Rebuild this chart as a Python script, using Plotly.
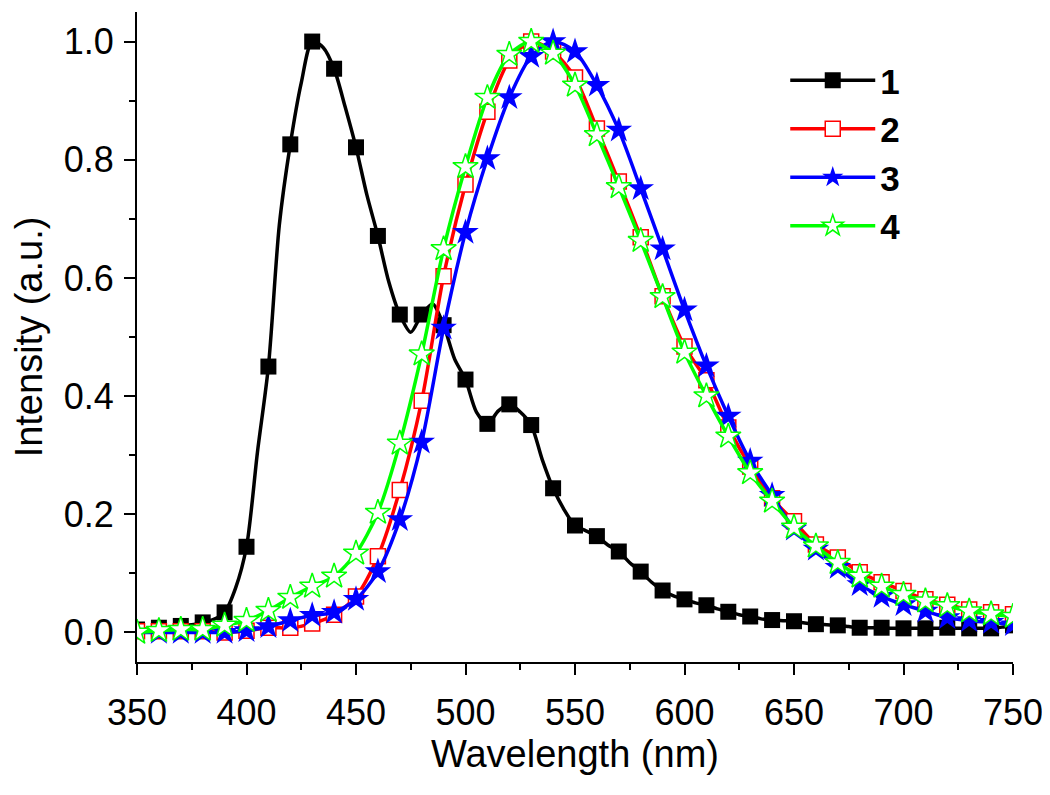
import plotly.graph_objects as go

# Series 1 (black), sampled every 5 nm (markers every 10 nm)
wl1 = list(range(350, 755, 5))
s1 = [0.005, 0.006, 0.008, 0.009, 0.011, 0.013, 0.017, 0.022, 0.034, 0.075,
      0.145, 0.305, 0.45, 0.69, 0.826, 0.93, 1.0, 0.99, 0.954, 0.89,
      0.821, 0.74, 0.671, 0.593, 0.538, 0.508, 0.538, 0.556, 0.52, 0.463,
      0.428, 0.373, 0.353, 0.375, 0.386, 0.373, 0.351, 0.293, 0.244, 0.208,
      0.181, 0.172, 0.163, 0.148, 0.137, 0.118, 0.103, 0.085, 0.071, 0.062,
      0.056, 0.05, 0.046, 0.04, 0.035, 0.03, 0.027, 0.023, 0.021, 0.02,
      0.019, 0.016, 0.014, 0.013, 0.012, 0.01, 0.008, 0.008, 0.008, 0.007,
      0.007, 0.007, 0.007, 0.007, 0.008, 0.007, 0.007, 0.007, 0.007, 0.009,
      0.012]

# Series 2-4, sampled every 10 nm
wl = list(range(350, 760, 10))
s2 = [0.002, 0.002, 0.002, 0.002, 0.0, 0.003, 0.008, 0.008, 0.015, 0.03,
      0.061, 0.129, 0.241, 0.392, 0.603, 0.758, 0.881, 0.968, 1.0, 0.983,
      0.939, 0.853, 0.763, 0.669, 0.569, 0.484, 0.427, 0.347, 0.281, 0.227,
      0.188, 0.149, 0.127, 0.102, 0.085, 0.07, 0.056, 0.047, 0.039, 0.034,
      0.031]
s3 = [0.0, 0.0, 0.0, 0.0, 0.0, 0.003, 0.01, 0.02, 0.029, 0.034,
      0.056, 0.103, 0.191, 0.322, 0.515, 0.677, 0.802, 0.905, 0.975, 1.0,
      0.983, 0.926, 0.85, 0.751, 0.649, 0.546, 0.451, 0.366, 0.29, 0.232,
      0.175, 0.141, 0.11, 0.081, 0.061, 0.047, 0.036, 0.025, 0.02, 0.017,
      0.013]
s4 = [0.0, 0.003, 0.005, 0.005, 0.012, 0.02, 0.037, 0.059, 0.078, 0.095,
      0.134, 0.203, 0.32, 0.471, 0.649, 0.788, 0.905, 0.978, 1.0, 0.98,
      0.926, 0.842, 0.754, 0.663, 0.568, 0.474, 0.40, 0.332, 0.27, 0.222,
      0.178, 0.146, 0.118, 0.095, 0.078, 0.064, 0.053, 0.045, 0.036, 0.031,
      0.027]

names = ["1", "2", "3", "4"]
xticks = [350, 400, 450, 500, 550, 600, 650, 700, 750]
xminor = [375, 425, 475, 525, 575, 625, 675, 725]
yticks = [0.0, 0.2, 0.4, 0.6, 0.8, 1.0]
yminor = [0.1, 0.3, 0.5, 0.7, 0.9]

FONT = "Liberation Sans, Arial, Helvetica, sans-serif"
LW = 3.5

fig = go.Figure()

# --- series 1: smooth line through 5 nm data, markers every 10 nm
fig.add_trace(go.Scatter(x=wl1, y=s1, mode="lines", showlegend=False,
                         line=dict(color="black", width=LW, shape="spline", smoothing=0.8)))
fig.add_trace(go.Scatter(x=wl1[::2], y=s1[::2], mode="markers", showlegend=False,
                         marker=dict(symbol="square", size=16, color="black")))

styles = [
    (s2, "#ff0000", dict(symbol="square", size=15, color="white",
                         line=dict(color="#ff0000", width=1.5))),
    (s3, "#0000ff", dict(symbol="star", size=20, color="#0000ff",
                         line=dict(color="#0000ff", width=0))),
    (s4, "#00ff00", dict(symbol="star", size=19, color="white",
                         line=dict(color="#00ff00", width=1.5))),
]
for ys, col, mk in styles:
    fig.add_trace(go.Scatter(x=wl, y=ys, mode="lines+markers", showlegend=False,
                             line=dict(color=col, width=LW, shape="spline", smoothing=0.8),
                             marker=mk))

# legend entries
leg = [("black", dict(symbol="square", size=16, color="black"))] + \
      [(c, m) for _, c, m in styles]
for nm, (col, mk) in zip(names, leg):
    fig.add_trace(go.Scatter(x=[None], y=[None], mode="lines+markers", name=nm,
                             line=dict(color=col, width=LW), marker=mk))

axis_common = dict(showgrid=False, zeroline=False, showline=True,
                   linecolor="black", linewidth=2, tickcolor="black",
                   tickwidth=2, ticklen=11)

fig.update_layout(
    width=1050, height=795,
    paper_bgcolor="white", plot_bgcolor="white",
    margin=dict(l=129, r=45, t=4, b=141),
    font=dict(family=FONT, color="black", size=36),
    xaxis=dict(range=[350, 750], tickvals=xticks, ticks="outside",
               tickfont=dict(size=36), ticklabelstandoff=7,
               minor=dict(ticks="outside", ticklen=6, tickwidth=2, tickcolor="black",
                          tickvals=xminor),
               title=dict(text="Wavelength (nm)", font=dict(size=38), standoff=1),
               **axis_common),
    yaxis=dict(range=[-0.05, 1.05], tickvals=yticks, tickformat=".1f", ticks="outside",
               tickfont=dict(size=36), ticklabelstandoff=3,
               minor=dict(ticks="outside", ticklen=6, tickwidth=2, tickcolor="black",
                          tickvals=yminor),
               title=dict(text="Intensity (a.u.)", font=dict(size=38), standoff=19),
               **axis_common),
    xaxis2=dict(range=[350, 750], overlaying="x", side="top", anchor="y",
                tickvals=xticks, ticks="inside", showticklabels=False,
                minor=dict(ticks="inside", ticklen=6, tickwidth=2, tickcolor="black",
                           tickvals=xminor),
                **axis_common),
    yaxis2=dict(range=[-0.05, 1.05], overlaying="y", side="right", anchor="x",
                tickvals=yticks, ticks="inside", showticklabels=False,
                minor=dict(ticks="inside", ticklen=6, tickwidth=2, tickcolor="black",
                           tickvals=yminor),
                **axis_common),
    legend=dict(x=0.74, y=0.94, xanchor="left", yanchor="top",
                bgcolor="rgba(0,0,0,0)", borderwidth=0, itemwidth=85,
                font=dict(size=35, family="Liberation Sans, Arial", weight="bold"),
                tracegroupgap=0),
)

fig.write_html("out.html")
